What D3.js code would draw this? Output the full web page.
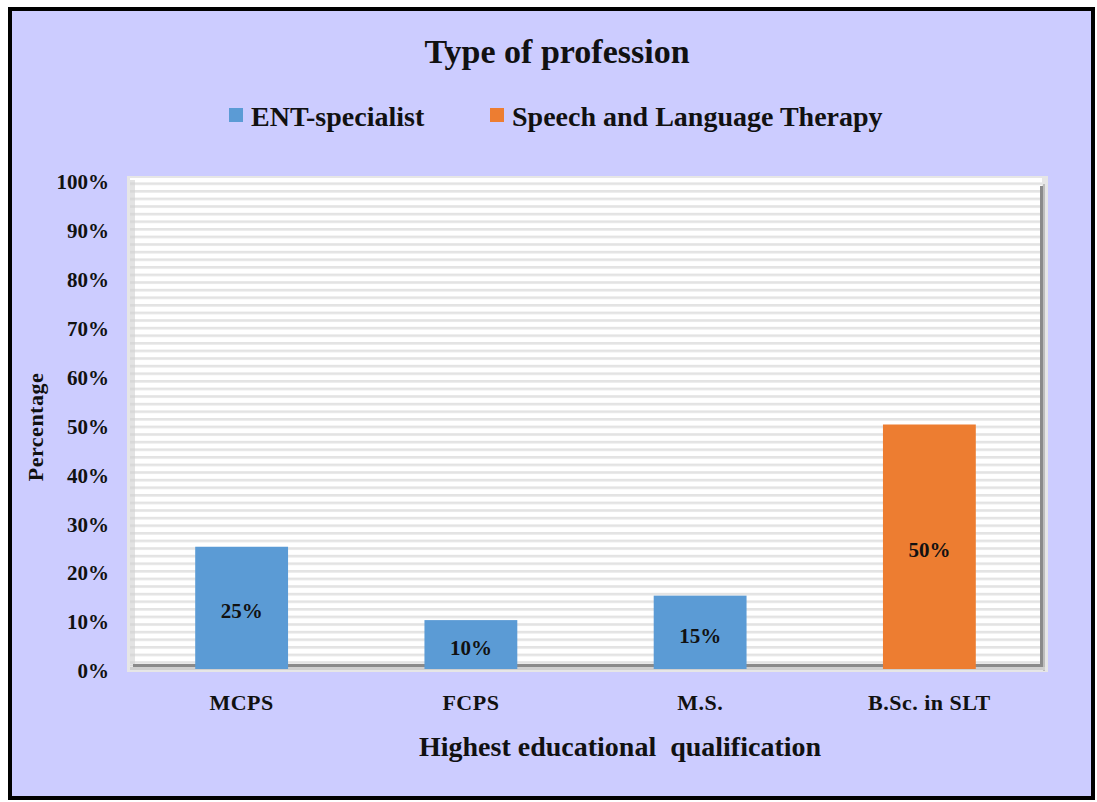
<!DOCTYPE html>
<html>
<head>
<meta charset="utf-8">
<script src="https://cdn.jsdelivr.net/npm/d3@7"></script>
<style>
  body { margin: 0; background: #fff; }
  text { font-family: "Liberation Serif", "Times New Roman", serif; font-weight: bold; fill: #111; }
</style>
</head>
<body>
<div id="chart"></div>
<script>
// data
var categories = ["MCPS", "FCPS", "M.S.", "B.Sc. in SLT"];
var values = [0.25, 0.10, 0.15, 0.50];
var seriesOf = ["ENT-specialist", "ENT-specialist", "ENT-specialist", "Speech and Language Therapy"];
var seriesNames = ["ENT-specialist", "Speech and Language Therapy"];
var seriesColors = ["#5b9bd5", "#ed7d31"];
var yTicks = [0, 0.1, 0.2, 0.3, 0.4, 0.5, 0.6, 0.7, 0.8, 0.9, 1.0];

var W = 1097, H = 802;
var svg = d3.select("#chart").append("svg")
    .attr("width", W)
    .attr("height", H);

var defs = svg.append("defs");
var pat = defs.append("pattern")
    .attr("id", "stripes")
    .attr("patternUnits", "userSpaceOnUse")
    .attr("width", 8).attr("height", 7.6);
pat.append("rect").attr("width", 8).attr("height", 7.6).attr("fill", "#fff");
pat.append("rect").attr("y", 0).attr("width", 8).attr("height", 2.6).attr("fill", "#e3e3e3");

// outer frame
svg.append("rect")
    .attr("x", 10).attr("y", 9)
    .attr("width", 1083).attr("height", 789)
    .attr("fill", "#ccccff")
    .attr("stroke", "#000")
    .attr("stroke-width", 4);

var plot = {left: 127, right: 1044, top: 180, bottom: 669};

var x = d3.scaleBand()
    .domain(categories)
    .range([plot.left, plot.right])
    .paddingInner(0.595)
    .paddingOuter(0.2975);

var y = d3.scaleLinear()
    .domain([0, 1])
    .range([plot.bottom, plot.top]);

var color = d3.scaleOrdinal().domain(seriesNames).range(seriesColors);

// 3D-ish plot area: outer light frame, striped back wall, dark floor/right edges
svg.append("rect")
    .attr("x", plot.left).attr("y", plot.top - 4)
    .attr("width", plot.right - plot.left + 4).attr("height", plot.bottom - plot.top + 7)
    .attr("fill", "#e6e6e6");
svg.append("rect")
    .attr("x", plot.left + 3).attr("y", plot.top - 2)
    .attr("width", plot.right - plot.left - 5).attr("height", plot.bottom - plot.top - 2)
    .attr("fill", "url(#stripes)");
// left wall
svg.append("rect")
    .attr("x", plot.left + 3).attr("y", plot.top)
    .attr("width", 5).attr("height", plot.bottom - plot.top - 3)
    .attr("fill", "#d0d0d0").attr("opacity", 0.6);
// right edge shadow
svg.append("rect")
    .attr("x", plot.right - 4).attr("y", plot.top + 6)
    .attr("width", 3).attr("height", plot.bottom - plot.top - 6)
    .attr("fill", "#8a8a8a");
svg.append("rect")
    .attr("x", plot.right - 1).attr("y", plot.top + 4)
    .attr("width", 2).attr("height", plot.bottom - plot.top - 2)
    .attr("fill", "#bdbdbd");
// floor
svg.append("rect")
    .attr("x", plot.left + 6).attr("y", plot.bottom - 5)
    .attr("width", plot.right - plot.left - 9).attr("height", 3)
    .attr("fill", "#8a8a8a");
svg.append("rect")
    .attr("x", plot.left + 3).attr("y", plot.bottom - 2)
    .attr("width", plot.right - plot.left - 2).attr("height", 3)
    .attr("fill", "#cfcfcf");

// bars
svg.append("g").selectAll("rect")
    .data(categories)
    .join("rect")
    .attr("x", function (d) { return x(d); })
    .attr("y", function (d, i) { return y(values[i]); })
    .attr("width", x.bandwidth())
    .attr("height", function (d, i) { return y(0) - y(values[i]); })
    .attr("fill", function (d, i) { return color(seriesOf[i]); });

// value labels
svg.append("g").selectAll("text")
    .data(categories)
    .join("text")
    .attr("x", function (d) { return x(d) + x.bandwidth() / 2; })
    .attr("y", function (d, i) { return (y(values[i]) + y(0)) / 2 + 3; })
    .attr("dy", "0.35em")
    .attr("text-anchor", "middle")
    .style("font-size", "21px")
    .text(function (d, i) { return d3.format(".0%")(values[i]); });

// y axis
var yAxis = svg.append("g")
    .attr("transform", "translate(" + (plot.left - 18) + ",2)")
    .call(d3.axisLeft(y).tickValues(yTicks).tickFormat(d3.format(".0%")).tickSize(0).tickPadding(0));
yAxis.select(".domain").remove();
yAxis.selectAll("text")
    .style("font-family", "Liberation Serif, serif")
    .style("font-weight", "bold")
    .style("font-size", "21px")
    .attr("fill", "#111");

// x axis
var xAxis = svg.append("g")
    .attr("transform", "translate(0," + (plot.bottom + 21) + ")")
    .call(d3.axisBottom(x).tickSize(0).tickPadding(4));
xAxis.select(".domain").remove();
xAxis.selectAll("text")
    .style("font-family", "Liberation Serif, serif")
    .style("font-weight", "bold")
    .style("font-size", "22px")
    .style("letter-spacing", "0.5px")
    .attr("fill", "#111");

// titles
svg.append("text")
    .attr("x", 557).attr("y", 63)
    .attr("text-anchor", "middle")
    .style("font-size", "34px")
    .text("Type of profession");

svg.append("text")
    .attr("x", 620).attr("y", 756)
    .attr("text-anchor", "middle")
    .style("font-size", "28px")
    .text("Highest educational\u00a0 qualification");

svg.append("text")
    .attr("transform", "translate(43,427) rotate(-90)")
    .attr("text-anchor", "middle")
    .style("font-size", "22px")
    .style("letter-spacing", "0.5px")
    .text("Percentage");

// legend
var legendX = [229, 490];
var legend = svg.append("g").selectAll("g")
    .data(seriesNames)
    .join("g")
    .attr("transform", function (d, i) { return "translate(" + legendX[i] + ",108)"; });
legend.append("rect")
    .attr("width", 14).attr("height", 14)
    .attr("fill", function (d) { return color(d); });
legend.append("text")
    .attr("x", 22).attr("y", 8)
    .attr("dy", "0.35em")
    .style("font-size", "28px")
    .text(function (d) { return d; });
</script>
</body>
</html>
